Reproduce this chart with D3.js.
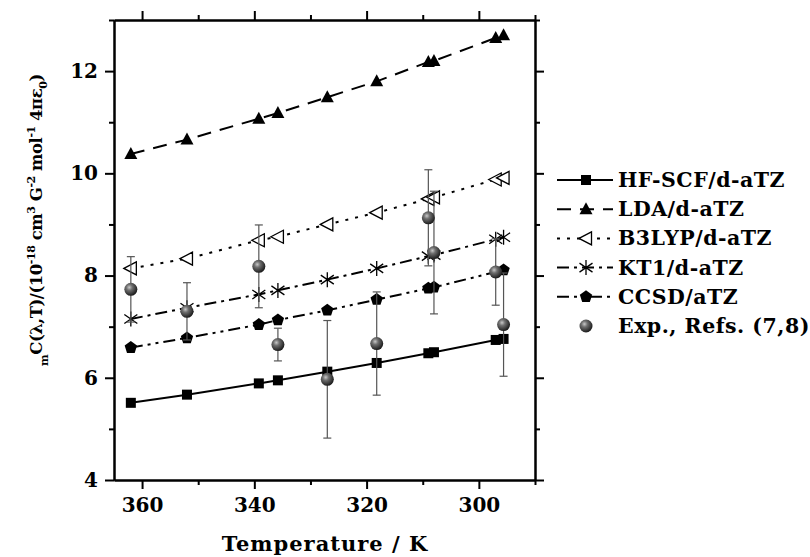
<!DOCTYPE html>
<html>
<head>
<meta charset="utf-8">
<script src="https://cdn.jsdelivr.net/npm/d3@7"></script>
<style>
  body { margin: 0; background: #fff; }
  text { font-family: "DejaVu Serif", serif; font-weight: bold; fill: #000; }
  .axis path, .axis line { stroke: #000; stroke-width: 2; }
  .axis text { font-size: 20px; }
</style>
</head>
<body>
<script>
// Temperatures (K) shared by all series
var temps = [362, 352, 339.2, 335.8, 327, 318.2, 309, 308, 297, 295.6];

// Calculated values
var hfscf = [5.51, 5.67, 5.89, 5.95, 6.12, 6.29, 6.48, 6.50, 6.74, 6.76];
var lda   = [10.38, 10.66, 11.07, 11.18, 11.49, 11.80, 12.18, 12.20, 12.65, 12.70];
var b3lyp = [8.14, 8.33, 8.69, 8.76, 9.00, 9.23, 9.50, 9.53, 9.88, 9.91];
var kt1   = [7.15, 7.37, 7.63, 7.71, 7.92, 8.14, 8.38, 8.40, 8.71, 8.75];
var ccsd  = [6.59, 6.78, 7.04, 7.13, 7.32, 7.53, 7.75, 7.77, 8.07, 8.11];

// Experiment with error bars
var expVal = [7.73, 7.30, 8.18, 6.65, 5.97, 6.67, 9.13, 8.45, 8.07, 7.04];
var expErr = [0.64, 0.56, 0.81, 0.32, 1.15, 1.01, 0.94, 1.20, 0.65, 1.01];

var xTicks = [360, 340, 320, 300];
var xMinor = [350, 330, 310, 290];
var yTicks = [4, 6, 8, 10, 12];
var yMinor = [5, 7, 9, 11, 13];

var seriesNames = ["HF-SCF/d-aTZ", "LDA/d-aTZ", "B3LYP/d-aTZ", "KT1/d-aTZ", "CCSD/aTZ"];
var expName = "Exp., Refs. (7,8)";

var margin = {top: 20, left: 114},
    width = 421,
    height = 460;

var xScale = d3.scaleLinear().domain([365, 290]).range([0, width]);
var yScale = d3.scaleLinear().domain([4, 13]).range([height, 0]);

var svg = d3.select("body").append("svg")
    .attr("width", 810)
    .attr("height", 557);

var defs = svg.append("defs");
var grad = defs.append("radialGradient")
    .attr("id", "ball")
    .attr("cx", "38%").attr("cy", "35%").attr("r", "65%");
grad.append("stop").attr("offset", "0%").attr("stop-color", "#c8c8c8");
grad.append("stop").attr("offset", "35%").attr("stop-color", "#707070");
grad.append("stop").attr("offset", "100%").attr("stop-color", "#1c1c1c");

var g = svg.append("g")
    .attr("transform", "translate(" + margin.left + "," + margin.top + ")");

// Axes (major + minor on all four sides, ticks pointing out)
function axisPair(axisFn, scale, major, minor, labels, pad) {
  var a = axisFn(scale).tickValues(major).tickSize(9).tickPadding(pad);
  if (!labels) a.tickFormat("");
  var m = axisFn(scale).tickValues(minor).tickSize(5).tickFormat("");
  return [a, m];
}

var bottomAx = axisPair(d3.axisBottom, xScale, xTicks, xMinor, true, 9);
var topAx = axisPair(d3.axisTop, xScale, xTicks, xMinor, false, 0);
var leftAx = axisPair(d3.axisLeft, yScale, yTicks, yMinor, true, 7);
var rightAx = axisPair(d3.axisRight, yScale, yTicks, yMinor, false, 0);

[bottomAx, topAx].forEach(function(p, i) {
  p.forEach(function(ax) {
    g.append("g").attr("class", "axis")
      .attr("transform", "translate(0," + (i === 0 ? height : 0) + ")")
      .call(ax.tickSizeOuter(0));
  });
});
[leftAx, rightAx].forEach(function(p, i) {
  p.forEach(function(ax) {
    g.append("g").attr("class", "axis")
      .attr("transform", "translate(" + (i === 0 ? 0 : width) + ",0)")
      .call(ax.tickSizeOuter(0));
  });
});

// Axis titles
svg.append("text")
    .attr("x", 325).attr("y", 551)
    .attr("text-anchor", "middle")
    .style("font-size", "21px")
    .style("letter-spacing", "1px")
    .text("Temperature / K");

var yl = svg.append("text")
    .attr("transform", "translate(42,366) rotate(-90)")
    .style("font-size", "16.5px")
    .style("letter-spacing", "-0.45px");
yl.append("tspan").attr("dy", 6).style("font-size", "11px").text("m");
yl.append("tspan").attr("dy", -6).text("C(λ,T)/(10");
yl.append("tspan").attr("dy", -7).style("font-size", "11px").text("-18");
yl.append("tspan").attr("dy", 7).text(" cm");
yl.append("tspan").attr("dy", -7).style("font-size", "11px").text("3");
yl.append("tspan").attr("dy", 7).text(" G");
yl.append("tspan").attr("dy", -7).style("font-size", "11px").text("-2");
yl.append("tspan").attr("dy", 7).text(" mol");
yl.append("tspan").attr("dy", -7).style("font-size", "11px").text("-1");
yl.append("tspan").attr("dy", 7).text(" 4πε");
yl.append("tspan").attr("dy", 5).style("font-size", "11px").text("0");
yl.append("tspan").attr("dy", -5).text(")");

// Series definitions
var series = [
  {name: seriesNames[0], values: hfscf, dash: null, marker: "square"},
  {name: seriesNames[1], values: lda, dash: "14,9", marker: "triangle"},
  {name: seriesNames[2], values: b3lyp, dash: "3,7", marker: "lefttri"},
  {name: seriesNames[3], values: kt1, dash: "12,5,3,5", marker: "star"},
  {name: seriesNames[4], values: ccsd, dash: "12,5,3,5,3,5", marker: "pentagon"}
];

var line = d3.line()
    .x(function(d) { return xScale(d.t); })
    .y(function(d) { return yScale(d.v); });

function drawMarker(sel, type) {
  if (type === "square") {
    sel.append("rect").attr("x", -5).attr("y", -5).attr("width", 10).attr("height", 10)
      .attr("fill", "#000");
  } else if (type === "triangle") {
    sel.append("path").attr("d", "M0,-7L6.5,5L-6.5,5Z").attr("fill", "#000");
  } else if (type === "lefttri") {
    sel.append("path").attr("d", "M-7,0L5.5,-6.5L5.5,6.5Z")
      .attr("fill", "#fff").attr("stroke", "#000").attr("stroke-width", 1.3);
  } else if (type === "star") {
    sel.append("path")
      .attr("d", "M0,-7.5L0,7.5M-6.5,-4.5L6.5,4.5M-6.5,4.5L6.5,-4.5")
      .attr("stroke", "#000").attr("stroke-width", 1.3).attr("fill", "none");
  } else if (type === "pentagon") {
    var pts = d3.range(5).map(function(i) {
      var a = -Math.PI / 2 + i * 2 * Math.PI / 5;
      return [6.5 * Math.cos(a), 6.5 * Math.sin(a)];
    });
    sel.append("path").attr("d", "M" + pts.join("L") + "Z").attr("fill", "#000");
  } else if (type === "ball") {
    sel.append("circle").attr("r", 6.5).attr("fill", "url(#ball)");
  }
}

series.forEach(function(s) {
  var data = temps.map(function(t, i) { return {t: t, v: s.values[i]}; });
  g.append("path")
    .datum(data)
    .attr("fill", "none")
    .attr("stroke", "#000")
    .attr("stroke-width", 2)
    .attr("stroke-dasharray", s.dash)
    .attr("d", line);
  data.forEach(function(d) {
    var m = g.append("g")
      .attr("transform", "translate(" + xScale(d.t) + "," + yScale(d.v) + ")");
    drawMarker(m, s.marker);
  });
});

// Experimental points with error bars
var expData = temps.map(function(t, i) { return {t: t, v: expVal[i], e: expErr[i]}; });
var eb = g.selectAll(".err").data(expData).enter().append("g")
    .attr("class", "err")
    .attr("stroke", "#555")
    .attr("stroke-width", 1.2);
eb.append("line")
    .attr("x1", function(d) { return xScale(d.t); })
    .attr("x2", function(d) { return xScale(d.t); })
    .attr("y1", function(d) { return yScale(d.v - d.e); })
    .attr("y2", function(d) { return yScale(d.v + d.e); });
eb.append("line")
    .attr("x1", function(d) { return xScale(d.t) - 4; })
    .attr("x2", function(d) { return xScale(d.t) + 4; })
    .attr("y1", function(d) { return yScale(d.v + d.e); })
    .attr("y2", function(d) { return yScale(d.v + d.e); });
eb.append("line")
    .attr("x1", function(d) { return xScale(d.t) - 4; })
    .attr("x2", function(d) { return xScale(d.t) + 4; })
    .attr("y1", function(d) { return yScale(d.v - d.e); })
    .attr("y2", function(d) { return yScale(d.v - d.e); });
expData.forEach(function(d) {
  var m = g.append("g")
    .attr("transform", "translate(" + xScale(d.t) + "," + yScale(d.v) + ")");
  drawMarker(m, "ball");
});

// Legend
var legend = svg.append("g").attr("transform", "translate(557,180)");
series.concat([{name: expName, dash: null, marker: "ball", noLine: true}]).forEach(function(s, i) {
  var row = legend.append("g").attr("transform", "translate(0," + (i * 29.2) + ")");
  if (!s.noLine) {
    row.append("line")
      .attr("x1", 0).attr("x2", 56)
      .attr("stroke", "#000").attr("stroke-width", 2)
      .attr("stroke-dasharray", s.dash);
  }
  var m = row.append("g").attr("transform", "translate(29,0)");
  drawMarker(m, s.marker);
  row.append("text")
    .attr("x", 61).attr("y", 7)
    .style("font-size", "20.5px")
    .style("letter-spacing", "0.5px")
    .text(s.name);
});
</script>
</body>
</html>
